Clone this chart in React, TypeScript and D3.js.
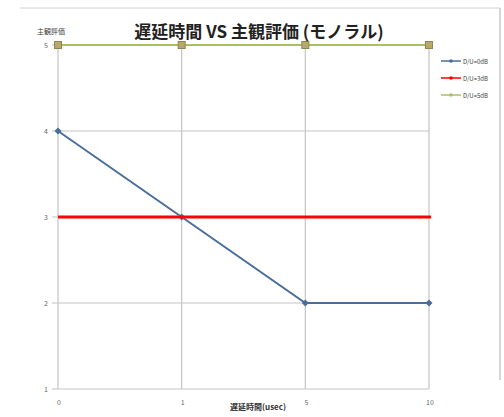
import React from "react";
import * as d3 from "d3";

const categories = ["0", "1", "5", "10"];
const yTicks = [1, 2, 3, 4, 5];
const seriesNames = ["D/U=0dB", "D/U=3dB", "D/U=5dB"];
const du0 = [4, 3, 2, 2];
const du3 = [3, 3, 3, 3];
const du5 = [5, 5, 5, 5];

const W = 504;
const H = 417;
const FONT = "'Noto Sans CJK JP', 'Noto Sans', sans-serif";

export default function App() {
  const x = d3.scalePoint<string>().domain(categories).range([58, 429]);
  const y = d3.scaleLinear().domain([1, 5]).range([389, 45]);
  const line = d3
    .line<number>()
    .x((_, i) => x(categories[i]) as number)
    .y((v) => y(v));

  const colors = ["#4a6e9c", "#ff0000", "#a8c060"];

  return (
    <svg
      width={W}
      height={H}
      style={{ position: "absolute", left: 0, top: 0, background: "#fff" }}
      fontFamily={FONT}
    >
      {/* outer frame */}
      <line x1={20} x2={500} y1={8} y2={8} stroke="#d0d0d0" strokeWidth={1} />
      <line x1={500} x2={500} y1={8} y2={380} stroke="#c8c8c8" strokeWidth={1.5} />

      {/* horizontal gridlines */}
      {yTicks.map((t) => (
        <g key={"y" + t}>
          <line x1={52} x2={429} y1={y(t)} y2={y(t)} stroke="#c4c4c4" strokeWidth={1.2} />
          <text x={48} y={y(t) + 3} fontSize={7} textAnchor="end" fill="#666">
            {t}
          </text>
        </g>
      ))}

      {/* vertical gridlines */}
      {categories.map((c) => (
        <g key={"x" + c}>
          <line x1={x(c)} x2={x(c)} y1={y(5)} y2={389} stroke="#c4c4c4" strokeWidth={1.2} />
          <text x={(x(c) as number) + 1} y={405} fontSize={7} textAnchor="middle" fill="#666">
            {c}
          </text>
        </g>
      ))}

      {/* series lines */}
      <path d={line(du5) || ""} fill="none" stroke={colors[2]} strokeWidth={2} />
      <path d={line(du0) || ""} fill="none" stroke={colors[0]} strokeWidth={2} />
      {du0.map((v, i) => {
        const cx = x(categories[i]) as number;
        const cy = y(v);
        return (
          <path
            key={"m0" + i}
            d={`M${cx},${cy - 3.5}L${cx + 3.5},${cy}L${cx},${cy + 3.5}L${cx - 3.5},${cy}Z`}
            fill={colors[0]}
          />
        );
      })}
      {du5.map((v, i) => {
        const cx = x(categories[i]) as number;
        const cy = y(v);
        return (
          <rect
            key={"m5" + i}
            x={cx - 3.5}
            y={cy - 3.5}
            width={7}
            height={7}
            fill="#b8a86a"
            stroke="#8c8650"
            strokeWidth={1}
          />
        );
      })}
      <line
        x1={x(categories[0])}
        x2={(x(categories[3]) as number) + 2}
        y1={y(du3[0])}
        y2={y(du3[3])}
        stroke={colors[1]}
        strokeWidth={3}
      />

      {/* titles */}
      <text x={259} y={38} fontSize={17} fontWeight="bold" textAnchor="middle" fill="#222">
        遅延時間 VS 主観評価 (モノラル)
      </text>
      <text x={37} y={34} fontSize={7} fill="#444">
        主観評価
      </text>
      <text x={258} y={410} fontSize={8} fontWeight="bold" textAnchor="middle" fill="#333">
        遅延時間(usec)
      </text>

      {/* legend */}
      {seriesNames.map((n, i) => {
        const ly = 61 + i * 17;
        return (
          <g key={n}>
            <line x1={441} x2={461} y1={ly} y2={ly} stroke={colors[i]} strokeWidth={1.5} />
            <circle cx={451} cy={ly} r={1.8} fill={colors[i]} />
            <text x={463} y={ly + 2.5} fontSize={6} fill="#444">
              {n}
            </text>
          </g>
        );
      })}
    </svg>
  );
}
